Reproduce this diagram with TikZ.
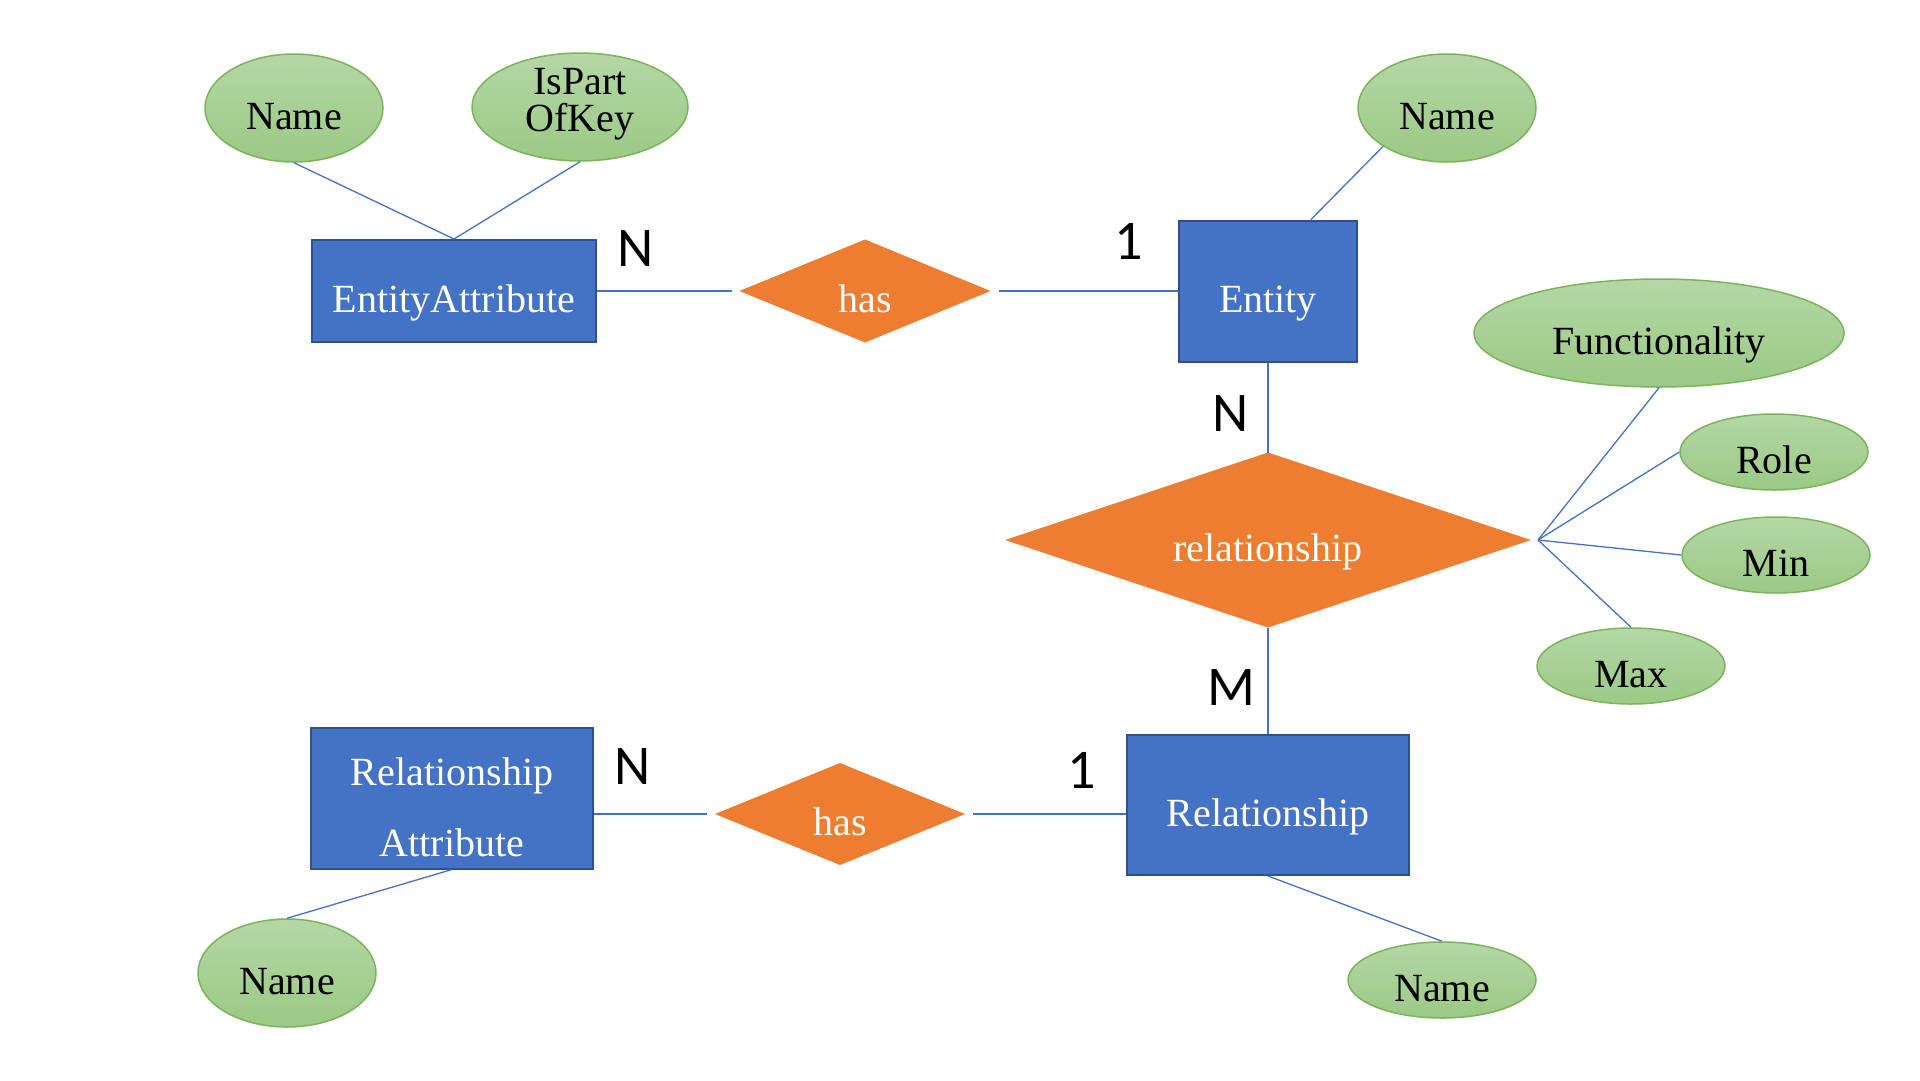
\documentclass[tikz,border=0pt]{standalone}
\usepackage{fontspec}
\setmainfont{Liberation Serif}
\newfontfamily\cardfont{Carlito}
\usetikzlibrary{shapes.geometric}
\definecolor{entblue}{HTML}{4472C4}
\definecolor{entedge}{HTML}{2F528F}
\definecolor{relorange}{HTML}{ED7D31}
\definecolor{attrtop}{HTML}{B5D7A6}
\definecolor{attrbot}{HTML}{9BC985}
\definecolor{attredge}{HTML}{7CB45B}
\definecolor{linkblue}{HTML}{4472C4}
\begin{document}
\begin{tikzpicture}[x=1pt,y=-1pt,
  entbox/.style={rectangle, fill=entblue, draw=entedge, line width=2pt, text=white,
    font=\fontsize{40}{44}\selectfont, align=center, inner sep=0pt,
    text height=42pt, text depth=0pt},
  reldia/.style={diamond, fill=relorange, draw=none, inner sep=0pt, outer sep=0pt},
  attr/.style={ellipse, top color=attrtop, bottom color=attrbot, draw=attredge,
    line width=1.5pt, font=\fontsize{40}{37}\selectfont, align=center, inner sep=0pt,
    text height=42pt, text depth=0pt},
  link/.style={draw=linkblue, line width=1.3pt},
  card/.style={font=\cardfont\fontsize{56}{60}\selectfont, inner sep=0pt},
  dlabel/.style={text=white, font=\fontsize{40}{44}\selectfont, inner sep=0pt,
    text height=42pt, text depth=0pt}
]
\useasboundingbox[fill=white] (0,0) rectangle (1920,1080);

% top left
\node[attr, minimum width=178pt, minimum height=108pt] (nm1) at (294,108) {Name};
\node[attr, minimum width=216pt, minimum height=108pt, text height=49pt, text depth=0pt]
      (key) at (580,107) {IsPart\\OfKey};
\node[entbox, minimum width=284pt, minimum height=102pt] (ea) at (454,291) {EntityAttribute};
\node[reldia, minimum width=251pt, minimum height=103pt,
      label={[dlabel]center:has}] (has1) at (865,291) {};

% entity
\node[entbox, minimum width=178pt, minimum height=141pt] (ent) at (1268,291) {Entity};
\node[attr, minimum width=178pt, minimum height=108pt] (nm2) at (1447,108) {Name};

% relationship diamond and attributes
\node[reldia, minimum width=526pt, minimum height=175pt,
      label={[dlabel]center:relationship}] (reld) at (1268,540) {};
\coordinate (hub) at ([xshift=7pt]reld.east);
\node[attr, minimum width=370pt, minimum height=108pt] (func) at (1659,333) {Functionality};
\node[attr, minimum width=188pt, minimum height=76pt] (role) at (1774,452) {Role};
\node[attr, minimum width=188pt, minimum height=76pt] (mini) at (1776,555) {Min};
\node[attr, minimum width=188pt, minimum height=76pt] (maxi) at (1631,666) {Max};

% bottom
\node[entbox, minimum width=282pt, minimum height=140pt] (relr) at (1268,805) {Relationship};
\node[entbox, minimum width=282pt, minimum height=141pt,
      font=\fontsize{40}{71}\selectfont, text height=116pt, text depth=0pt]
      (ra) at (452,798) {Relationship\\Attribute};
\node[reldia, minimum width=250pt, minimum height=102pt,
      label={[dlabel]center:has}] (has2) at (840,814) {};
\node[attr, minimum width=178pt, minimum height=108pt] (nm3) at (287,973) {Name};
\node[attr, minimum width=188pt, minimum height=76pt] (nm4) at (1442,980) {Name};

% cardinalities
\node[card] (c1) at (636,249) {N};
\node[card] (c2) at (1129,241) {1};
\node[card] (c3) at (1231,414) {N};
\node[card] (c4) at (1231,688) {M};
\node[card] (c5) at (633,767) {N};
\node[card] (c6) at (1082,770) {1};

% connectors
\draw[link] (nm1.south) -- (ea.north);
\draw[link] (key.south) -- (ea.north);
\draw[link, shorten >=8pt] (ea.east) -- (has1.west);
\draw[link, shorten <=8pt] (has1.east) -- (ent.west);
\draw[link] (ent.59) -- (nm2.211);
\draw[link] (ent.south) -- (reld.north);
\draw[link] (reld.south) -- (relr.north);
\draw[link] (hub) -- (func.south);
\draw[link] (hub) -- (role.west);
\draw[link] (hub) -- (mini.west);
\draw[link] (hub) -- (maxi.north);
\draw[link, shorten >=8pt] (ra.east |- has2.west) -- (has2.west);
\draw[link, shorten <=8pt] (has2.east) -- (relr.west |- has2.east);
\draw[link] (ra.south) -- (nm3.north);
\draw[link] (relr.south) -- (nm4.north);
\end{tikzpicture}
\end{document}
